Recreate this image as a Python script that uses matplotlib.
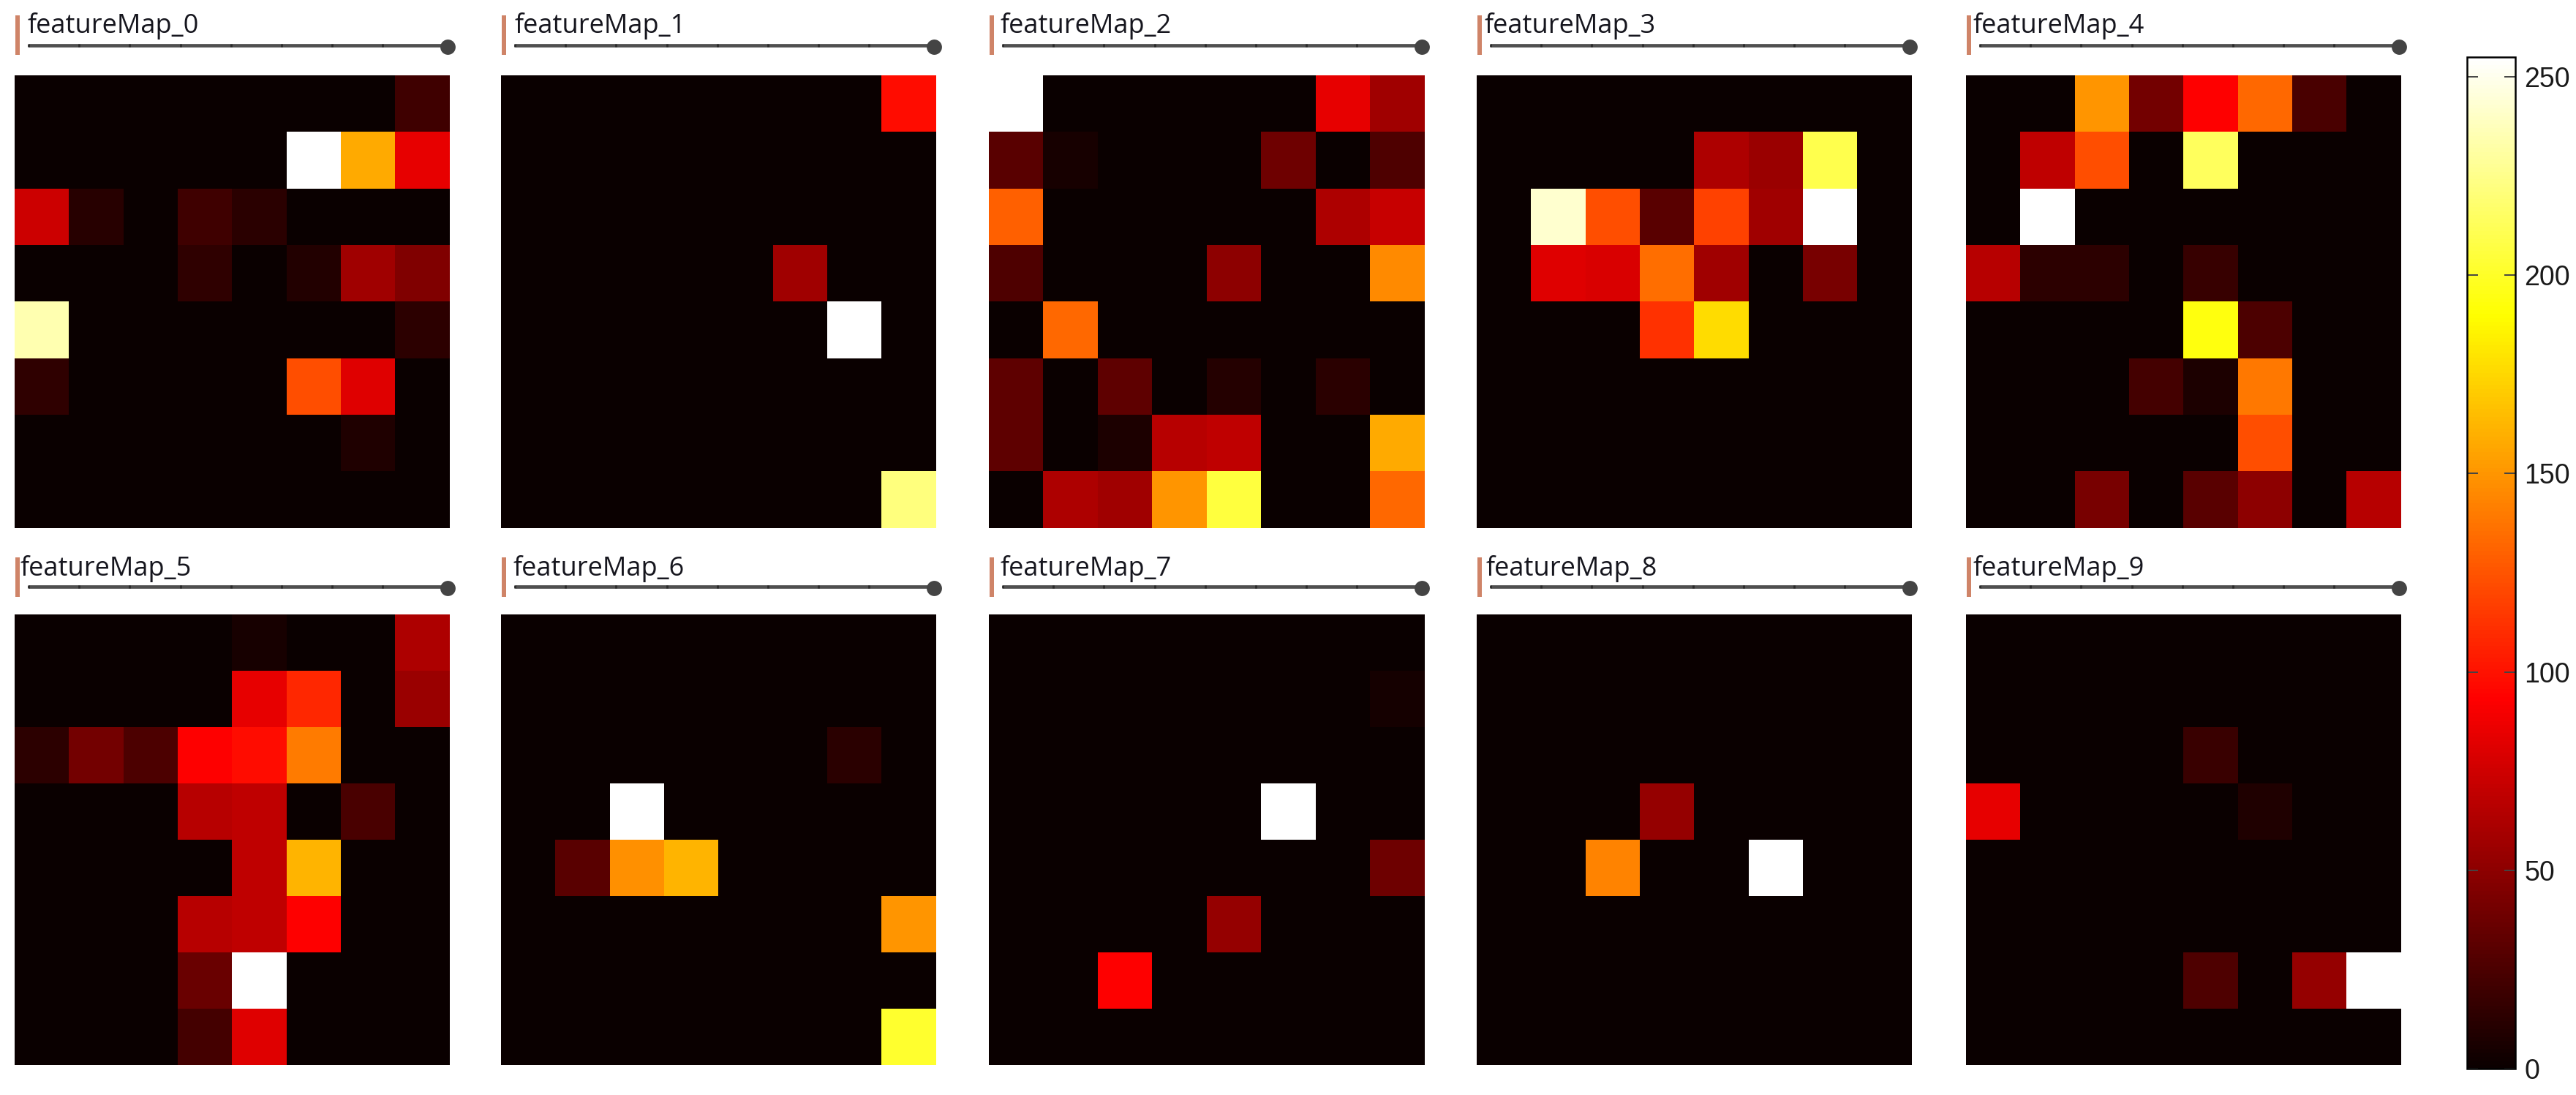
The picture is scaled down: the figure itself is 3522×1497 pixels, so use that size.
import numpy as np
import matplotlib.pyplot as plt
from matplotlib.lines import Line2D
from matplotlib.patches import Rectangle
from matplotlib.transforms import Affine2D

W, H = 3522, 1497

# values, 0-255 on the colour bar
feature_map_0 = [
    [0, 0, 0, 0, 0, 0, 0, 20],
    [0, 0, 0, 0, 0, 255, 158, 84],
    [74, 11, 0, 20, 12, 0, 0, 0],
    [0, 0, 0, 14, 0, 9, 57, 45],
    [235, 0, 0, 0, 0, 0, 0, 13],
    [14, 0, 0, 0, 0, 123, 81, 0],
    [0, 0, 0, 0, 0, 0, 8, 0],
    [0, 0, 0, 0, 0, 0, 0, 0],
]
feature_map_1 = [
    [0, 0, 0, 0, 0, 0, 0, 98],
    [0, 0, 0, 0, 0, 0, 0, 0],
    [0, 0, 0, 0, 0, 0, 0, 0],
    [0, 0, 0, 0, 0, 57, 0, 0],
    [0, 0, 0, 0, 0, 0, 255, 0],
    [0, 0, 0, 0, 0, 0, 0, 0],
    [0, 0, 0, 0, 0, 0, 0, 0],
    [0, 0, 0, 0, 0, 0, 0, 222],
]
feature_map_2 = [
    [255, 0, 0, 0, 0, 0, 84, 57],
    [30, 5, 0, 0, 0, 38, 0, 26],
    [130, 0, 0, 0, 0, 0, 62, 72],
    [26, 0, 0, 0, 50, 0, 0, 146],
    [0, 133, 0, 0, 0, 0, 0, 0],
    [32, 0, 32, 0, 10, 0, 12, 0],
    [32, 0, 7, 66, 69, 0, 0, 158],
    [0, 62, 57, 150, 206, 0, 0, 133],
]
feature_map_3 = [
    [0, 0, 0, 0, 0, 0, 0, 0],
    [0, 0, 0, 0, 62, 55, 210, 0],
    [0, 243, 123, 30, 118, 57, 255, 0],
    [0, 81, 79, 135, 57, 0, 42, 0],
    [0, 0, 0, 112, 177, 0, 0, 0],
    [0, 0, 0, 0, 0, 0, 0, 0],
    [0, 0, 0, 0, 0, 0, 0, 0],
    [0, 0, 0, 0, 0, 0, 0, 0],
]
feature_map_4 = [
    [0, 0, 150, 40, 93, 133, 24, 0],
    [0, 69, 123, 0, 214, 0, 0, 0],
    [0, 255, 0, 0, 0, 0, 0, 0],
    [66, 13, 13, 0, 17, 0, 0, 0],
    [0, 0, 0, 0, 194, 25, 0, 0],
    [0, 0, 0, 22, 7, 139, 0, 0],
    [0, 0, 0, 0, 0, 123, 0, 0],
    [0, 0, 42, 0, 30, 50, 0, 66],
]
feature_map_5 = [
    [0, 0, 0, 0, 5, 0, 0, 62],
    [0, 0, 0, 0, 84, 108, 0, 55],
    [13, 40, 25, 93, 98, 140, 0, 0],
    [0, 0, 0, 66, 69, 0, 24, 0],
    [0, 0, 0, 0, 69, 162, 0, 0],
    [0, 0, 0, 66, 69, 93, 0, 0],
    [0, 0, 0, 36, 255, 0, 0, 0],
    [0, 0, 0, 22, 81, 0, 0, 0],
]
feature_map_6 = [
    [0, 0, 0, 0, 0, 0, 0, 0],
    [0, 0, 0, 0, 0, 0, 0, 0],
    [0, 0, 0, 0, 0, 0, 12, 0],
    [0, 0, 255, 0, 0, 0, 0, 0],
    [0, 30, 148, 162, 0, 0, 0, 0],
    [0, 0, 0, 0, 0, 0, 0, 150],
    [0, 0, 0, 0, 0, 0, 0, 0],
    [0, 0, 0, 0, 0, 0, 0, 202],
]
feature_map_7 = [
    [0, 0, 0, 0, 0, 0, 0, 0],
    [0, 0, 0, 0, 0, 0, 0, 4],
    [0, 0, 0, 0, 0, 0, 0, 0],
    [0, 0, 0, 0, 0, 255, 0, 0],
    [0, 0, 0, 0, 0, 0, 0, 38],
    [0, 0, 0, 0, 53, 0, 0, 0],
    [0, 0, 93, 0, 0, 0, 0, 0],
    [0, 0, 0, 0, 0, 0, 0, 0],
]
feature_map_8 = [
    [0, 0, 0, 0, 0, 0, 0, 0],
    [0, 0, 0, 0, 0, 0, 0, 0],
    [0, 0, 0, 0, 0, 0, 0, 0],
    [0, 0, 0, 53, 0, 0, 0, 0],
    [0, 0, 143, 0, 0, 255, 0, 0],
    [0, 0, 0, 0, 0, 0, 0, 0],
    [0, 0, 0, 0, 0, 0, 0, 0],
    [0, 0, 0, 0, 0, 0, 0, 0],
]
feature_map_9 = [
    [0, 0, 0, 0, 0, 0, 0, 0],
    [0, 0, 0, 0, 0, 0, 0, 0],
    [0, 0, 0, 0, 18, 0, 0, 0],
    [84, 0, 0, 0, 0, 8, 0, 0],
    [0, 0, 0, 0, 0, 0, 0, 0],
    [0, 0, 0, 0, 0, 0, 0, 0],
    [0, 0, 0, 0, 26, 0, 53, 255],
    [0, 0, 0, 0, 0, 0, 0, 0],
]
feature_maps = [
    feature_map_0, feature_map_1, feature_map_2, feature_map_3, feature_map_4,
    feature_map_5, feature_map_6, feature_map_7, feature_map_8, feature_map_9,
]
titles = ["featureMap_%d" % i for i in range(10)]
cbar_ticks = [0, 50, 100, 150, 200, 250]

PANEL_LEFT = [20, 685, 1352, 2019, 2688]
PANEL_W = 595
ROW_TOP = [103, 840]
ROW_BOTTOM = [722, 1456]
TITLE_LEFT = [38, 704, 1368, 2030, 2697, 27, 701, 1368, 2032, 2697]
BAR_TOP = [21, 762]
LINE_Y = [62, 802]
TITLE_BASE = [45, 787]


def px_box(x0, y0, x1, y1):
    # pixel box (y from the top) to figure fractions
    return [x0 / W, 1 - y1 / H, (x1 - x0) / W, (y1 - y0) / H]


def add_header(fig, left, row):
    # the orange bar and the slider above each panel
    bar_top = BAR_TOP[row]
    fig.add_artist(Rectangle((left + 1, H - bar_top - 54), 6, 54, color="#cf8468",
                             lw=0, transform=to_fig))
    line_y = H - LINE_Y[row]
    fig.add_artist(Line2D([left + 19, left + 592], [line_y, line_y], color="#4f4f4f",
                          lw=3.4, solid_capstyle="butt", transform=to_fig))
    fig.add_artist(Line2D(left + 19 + 69.2 * np.arange(8), [line_y] * 8, ls="none",
                          marker="|", ms=3, mew=2, color="#2a2a2a", transform=to_fig))
    fig.add_artist(Line2D([left + 592], [line_y - 2], ls="none", marker="o", ms=15,
                          mew=0, color="#444444", transform=to_fig))


fig = plt.figure(figsize=(W / 100, H / 100), dpi=100, facecolor="white")
# draw header items in pixel coordinates
to_fig = Affine2D().scale(1 / W, 1 / H) + fig.transFigure

img = None
for i, data in enumerate(feature_maps):
    row, col = divmod(i, 5)
    left = PANEL_LEFT[col]
    ax = fig.add_axes(px_box(left, ROW_TOP[row], left + PANEL_W, ROW_BOTTOM[row]))
    img = ax.imshow(np.array(data), cmap="hot", vmin=0, vmax=255,
                    aspect="auto", interpolation="nearest")
    ax.axis("off")
    add_header(fig, left, row)
    fig.text(TITLE_LEFT[i] / W, 1 - TITLE_BASE[row] / H, titles[i], fontsize=26,
             family="Open Sans", color="#16161e", ha="left", va="baseline")

cax = fig.add_axes(px_box(3373, 78, 3439, 1461))
cbar = fig.colorbar(img, cax=cax, ticks=cbar_ticks)
cbar.outline.set_linewidth(1.8)
cbar.outline.set_edgecolor("black")
cax.tick_params(axis="y", which="both", direction="in", left=True, right=True,
                length=11, width=1.4, color="#444444", pad=9, labelsize=27)
for label in cax.get_yticklabels():
    label.set_family("Liberation Sans")
    label.set_color("#1a1a1a")

fig.savefig("out.png", dpi=100)
